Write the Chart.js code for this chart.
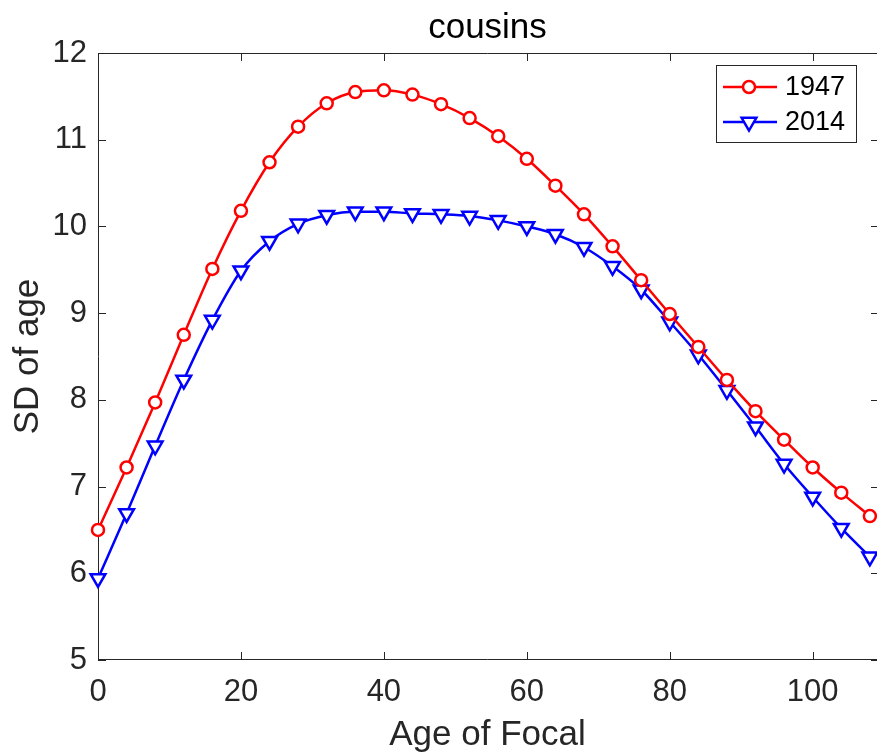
<!DOCTYPE html>
<html>
<head>
<meta charset="utf-8">
<title>cousins</title>
<script src="https://cdn.jsdelivr.net/npm/chart.js@4.4.1/dist/chart.umd.min.js"></script>
<style>
    html, body { margin: 0; padding: 0; background: #fff; }
    #wrap { width: 877px; height: 756px; }
</style>
</head>
<body>
<div id="wrap"><canvas id="grafico" width="877" height="756"></canvas></div>
<script>
// datos
const ages = [0, 4, 8, 12, 16, 20, 24, 28, 32, 36, 40, 44, 48, 52, 56, 60, 64, 68, 72, 76, 80, 84, 88, 92, 96, 100, 104, 108];
const sd1947 = [6.50, 7.22, 7.97, 8.75, 9.51, 10.18, 10.74, 11.15, 11.42, 11.55, 11.57, 11.52, 11.41, 11.25, 11.04, 10.78, 10.47, 10.14, 9.77, 9.38, 8.99, 8.61, 8.23, 7.87, 7.54, 7.22, 6.93, 6.66];
const sd2014 = [5.94, 6.69, 7.47, 8.23, 8.92, 9.49, 9.83, 10.03, 10.13, 10.17, 10.17, 10.15, 10.14, 10.12, 10.07, 10.00, 9.91, 9.76, 9.54, 9.27, 8.90, 8.52, 8.11, 7.69, 7.26, 6.88, 6.52, 6.19];
const xTicks = [0, 20, 40, 60, 80, 100];
const yTicks = [5, 6, 7, 8, 9, 10, 11, 12];
const seriesNames = ["1947", "2014"];

const FONT = "'Liberation Sans', Arial, Helvetica, sans-serif";
const AXIS = "#262626";

// ejes y marcas hacia adentro (estilo MATLAB); el borde derecho queda fuera de la imagen
const boxPlugin = {
    id: "boxTicks",
    beforeDatasetsDraw(chart) {
        const ctx = chart.ctx;
        const a = chart.chartArea;
        const xs = chart.scales.x, ys = chart.scales.y;
        const len = 8;
        ctx.save();
        ctx.strokeStyle = AXIS;
        ctx.lineWidth = 1;
        ctx.beginPath();
        ctx.moveTo(a.right, a.top + 0.5);
        ctx.lineTo(a.left + 0.5, a.top + 0.5);
        ctx.lineTo(a.left + 0.5, a.bottom - 0.5);
        ctx.lineTo(a.right, a.bottom - 0.5);
        xTicks.forEach(v => {
            const px = Math.round(xs.getPixelForValue(v)) + 0.5;
            ctx.moveTo(px, a.bottom); ctx.lineTo(px, a.bottom - len);
            ctx.moveTo(px, a.top); ctx.lineTo(px, a.top + len);
        });
        yTicks.forEach(v => {
            const py = Math.round(ys.getPixelForValue(v)) + 0.5;
            ctx.moveTo(a.left, py); ctx.lineTo(a.left + len, py);
            ctx.moveTo(a.right, py); ctx.lineTo(a.right - len + 2, py);
        });
        ctx.stroke();
        ctx.restore();
    },
    afterDraw(chart) {
        // leyenda con linea + marcador
        const ctx = chart.ctx;
        const bx = 716, by = 65, bw = 140, bh = 77;
        ctx.save();
        ctx.fillStyle = "#fff";
        ctx.fillRect(bx, by, bw, bh);
        ctx.strokeStyle = AXIS;
        ctx.lineWidth = 1;
        ctx.strokeRect(bx + 0.5, by + 0.5, bw, bh);
        chart.data.datasets.forEach((ds, i) => {
            const y = by + 22 + i * 35;
            ctx.strokeStyle = ds.borderColor;
            ctx.lineWidth = ds.borderWidth;
            ctx.beginPath();
            ctx.moveTo(bx + 7, y); ctx.lineTo(bx + 61, y);
            ctx.stroke();
            ctx.fillStyle = "#fff";
            ctx.lineWidth = ds.pointBorderWidth;
            Chart.helpers.drawPoint(ctx, {
                pointStyle: ds.pointStyle,
                rotation: ds.pointRotation || 0,
                radius: ds.pointRadius,
                borderWidth: ds.pointBorderWidth
            }, bx + 33, y);
            ctx.fillStyle = "#000";
            ctx.font = "27px " + FONT;
            ctx.textBaseline = "middle";
            ctx.textAlign = "left";
            ctx.fillText(ds.label, bx + 69, y + 1);
        });
        ctx.restore();
    }
};

document.addEventListener("DOMContentLoaded", function () {
    const ctx = document.getElementById("grafico").getContext("2d");
    new Chart(ctx, {
        type: "line",
        data: {
            datasets: [{
                label: seriesNames[0],
                data: ages.map((a, i) => ({ x: a, y: sd1947[i] })),
                borderColor: "#ff0000",
                backgroundColor: "#ffffff",
                pointBackgroundColor: "#ffffff",
                borderWidth: 2.5,
                pointStyle: "circle",
                pointRadius: 6,
                pointBorderWidth: 2.5,
                cubicInterpolationMode: "monotone",
                clip: false
            }, {
                label: seriesNames[1],
                data: ages.map((a, i) => ({ x: a, y: sd2014[i] })),
                borderColor: "#0000ff",
                backgroundColor: "#ffffff",
                pointBackgroundColor: "#ffffff",
                borderWidth: 2.5,
                pointStyle: "triangle",
                pointRotation: 180,
                pointRadius: 8.5,
                pointBorderWidth: 2.5,
                cubicInterpolationMode: "monotone",
                clip: false
            }]
        },
        options: {
            responsive: false,
            animation: false,
            layout: { padding: 0, autoPadding: false },
            plugins: {
                legend: { display: false },
                tooltip: { enabled: false },
                title: {
                    display: true,
                    text: "cousins",
                    fullSize: false,
                    color: "#000",
                    font: { family: FONT, size: 35, weight: "normal", lineHeight: 1.2 },
                    padding: { top: 7, bottom: 4 }
                }
            },
            scales: {
                x: {
                    type: "linear",
                    min: 0,
                    max: 109,
                    grid: { display: false, drawTicks: false },
                    border: { display: false },
                    afterBuildTicks: s => { s.ticks = xTicks.map(v => ({ value: v })); },
                    afterFit: s => { s.height = 96; },
                    ticks: {
                        color: AXIS,
                        padding: 14,
                        maxRotation: 0,
                        font: { family: FONT, size: 31 }
                    },
                    title: {
                        display: true,
                        text: "Age of Focal",
                        color: AXIS,
                        font: { family: FONT, size: 35 },
                        padding: { top: 0, bottom: 0 }
                    }
                },
                y: {
                    min: 5,
                    max: 12,
                    grid: { display: false, drawTicks: false },
                    border: { display: false },
                    afterBuildTicks: s => { s.ticks = yTicks.map(v => ({ value: v })); },
                    afterFit: s => { s.width = 98; },
                    ticks: {
                        color: AXIS,
                        padding: 11,
                        font: { family: FONT, size: 31 }
                    },
                    title: {
                        display: true,
                        text: "SD of age",
                        color: AXIS,
                        font: { family: FONT, size: 35 },
                        padding: { top: 7, bottom: 0 }
                    }
                }
            }
        },
        plugins: [boxPlugin]
    });
});
</script>
</body>
</html>
